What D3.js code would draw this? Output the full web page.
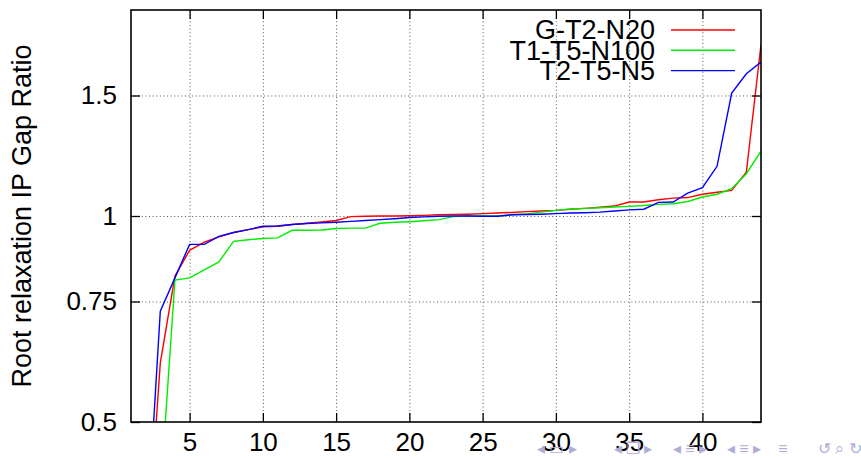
<!DOCTYPE html>
<html>
<head>
<meta charset="utf-8">
<script src="https://cdn.jsdelivr.net/npm/d3@7"></script>
<style>
  body { margin: 0; background: #fff; }
  svg text { font-family: "Liberation Sans", Arial, sans-serif; }
</style>
</head>
<body>
<div id="chart"></div>
<script>
// instance index on the x axis
var xValues = d3.range(2, 45);

// G-T2-N20
var gT2N20 = [0.30, 0.61, 0.817, 0.891, 0.916, 0.932, 0.946, 0.955, 0.964, 0.966,
    0.972, 0.976, 0.980, 0.985, 0.998, 0.999, 1.000, 1.000, 1.001, 1.002,
    1.004, 1.005, 1.006, 1.008, 1.010, 1.012, 1.015, 1.017, 1.019, 1.023,
    1.026, 1.030, 1.034, 1.048, 1.048, 1.056, 1.062, 1.064, 1.076, 1.083,
    1.090, 1.159, 1.78];

// T1-T5-N100
var t1T5N100 = [0.30, 0.39, 0.806, 0.812, 0.834, 0.857, 0.918, 0.923, 0.927, 0.929,
    0.953, 0.953, 0.954, 0.959, 0.960, 0.960, 0.976, 0.979, 0.981, 0.984,
    0.988, 0.998, 1.000, 1.000, 1.000, 1.004, 1.007, 1.013, 1.019, 1.024,
    1.026, 1.028, 1.031, 1.033, 1.036, 1.040, 1.042, 1.050, 1.066, 1.076,
    1.096, 1.153, 1.244];

// T2-T5-N5
var t2T5N5 = [0.32, 0.726, 0.812, 0.909, 0.909, 0.934, 0.946, 0.955, 0.966, 0.967,
    0.972, 0.975, 0.977, 0.979, 0.982, 0.985, 0.988, 0.991, 0.995, 0.997,
    0.999, 1.000, 1.000, 0.999, 0.999, 1.004, 1.005, 1.006, 1.008, 1.010,
    1.011, 1.013, 1.017, 1.021, 1.023, 1.047, 1.048, 1.080, 1.100, 1.182,
    1.512, 1.614, 1.678];

var seriesNames = ["G-T2-N20", "T1-T5-N100", "T2-T5-N5"];
var seriesColors = ["#ff0000", "#00ee00", "#0000ff"];
var xTicks = [5, 10, 15, 20, 25, 30, 35, 40];
var yTicks = [0.5, 0.75, 1, 1.5];
var yTickLabels = ["0.5", "0.75", "1", "1.5"];
var yLabel = "Root relaxation IP Gap Ratio";

var margin = {top: 10, right: 100, bottom: 38, left: 131};
var width = 630, height = 412;
var fontSize = 26;

var svg = d3.select("#chart")
    .append("svg")
    .attr("width", 861)
    .attr("height", 460);

svg.append("rect").attr("width", 861).attr("height", 460).attr("fill", "#fff");

var g = svg.append("g")
    .attr("transform", "translate(" + margin.left + "," + margin.top + ")");

var x = d3.scaleLinear().domain([1, 44]).range([0, width]);
var y = d3.scaleLog().domain([0.5, 2]).range([height, 0]);

// dotted grid
g.append("g")
    .attr("class", "grid")
    .attr("transform", "translate(0," + height + ")")
    .call(d3.axisBottom(x).tickValues(xTicks).tickSize(-height).tickFormat(""));
g.append("g")
    .attr("class", "grid")
    .call(d3.axisLeft(y).tickValues(yTicks.slice(1)).tickSize(-width).tickFormat(""));
g.selectAll(".grid .domain").remove();
g.selectAll(".grid line")
    .attr("stroke", "#555")
    .attr("stroke-width", 1)
    .attr("stroke-dasharray", "1,2.6");

// clip for the lines
g.append("clipPath").attr("id", "plotclip")
    .append("rect").attr("width", width).attr("height", height);

var line = d3.line()
    .x(function(d) { return x(d[0]); })
    .y(function(d) { return y(d[1]); });

var allSeries = [gT2N20, t1T5N100, t2T5N5];
allSeries.forEach(function(vals, i) {
    g.append("path")
        .datum(xValues.map(function(xv, j) { return [xv, vals[j]]; }))
        .attr("clip-path", "url(#plotclip)")
        .attr("fill", "none")
        .attr("stroke", seriesColors[i])
        .attr("stroke-width", 1.4)
        .attr("d", line);
});

// axes with inward ticks, mirrored on top/right
g.append("g")
    .attr("transform", "translate(0," + height + ")")
    .call(d3.axisBottom(x).tickValues(xTicks).tickSize(-9).tickPadding(11));
g.append("g")
    .call(d3.axisTop(x).tickValues(xTicks).tickSize(-9).tickFormat(""));
g.append("g")
    .call(d3.axisLeft(y).tickValues(yTicks).tickSize(-9).tickPadding(14)
        .tickFormat(function(d, i) { return yTickLabels[i]; }));
g.append("g")
    .attr("transform", "translate(" + width + ",0)")
    .call(d3.axisRight(y).tickValues(yTicks).tickSize(-9).tickFormat(""));
g.selectAll(".domain").remove();
g.selectAll(".tick line").filter(function() { return !this.closest(".grid"); })
    .attr("stroke", "#000").attr("stroke-width", 1.3);
g.selectAll(".tick text")
    .attr("font-family", "'Liberation Sans', Arial, sans-serif")
    .attr("font-size", fontSize + "px")
    .attr("fill", "#000");

// frame
g.append("rect")
    .attr("width", width).attr("height", height)
    .attr("fill", "none").attr("stroke", "#000").attr("stroke-width", 1.6);

// y label
svg.append("text")
    .attr("transform", "translate(31," + (margin.top + height / 2) + ") rotate(-90)")
    .attr("text-anchor", "middle")
    .attr("font-size", "27px")
    .text(yLabel);

// legend
var legend = g.append("g");
seriesNames.forEach(function(name, i) {
    var ly = 20 + i * 20.3;
    legend.append("text")
        .attr("x", 524).attr("y", ly)
        .attr("dy", "0.35em")
        .attr("text-anchor", "end")
        .attr("font-size", "27px")
        .text(name);
    legend.append("line")
        .attr("x1", 540).attr("x2", 604)
        .attr("y1", ly).attr("y2", ly)
        .attr("stroke", seriesColors[i]).attr("stroke-width", 1.4);
});

// beamer navigation symbols
var nav = svg.append("g")
    .attr("fill", "#aeaed6")
    .attr("font-size", "16px")
    .attr("text-anchor", "middle");
[["◂ ▭ ▸", 557], ["◂ ❐ ▸", 633], ["◂ ≡ ▸", 690], ["◂ ≡ ▸", 744], ["≡", 783], ["↺ ⌕ ↻", 840]]
    .forEach(function(s) {
        nav.append("text").attr("x", s[1]).attr("y", 454)
            .attr("font-family", "'DejaVu Sans', sans-serif")
            .text(s[0]);
    });
</script>
</body>
</html>
